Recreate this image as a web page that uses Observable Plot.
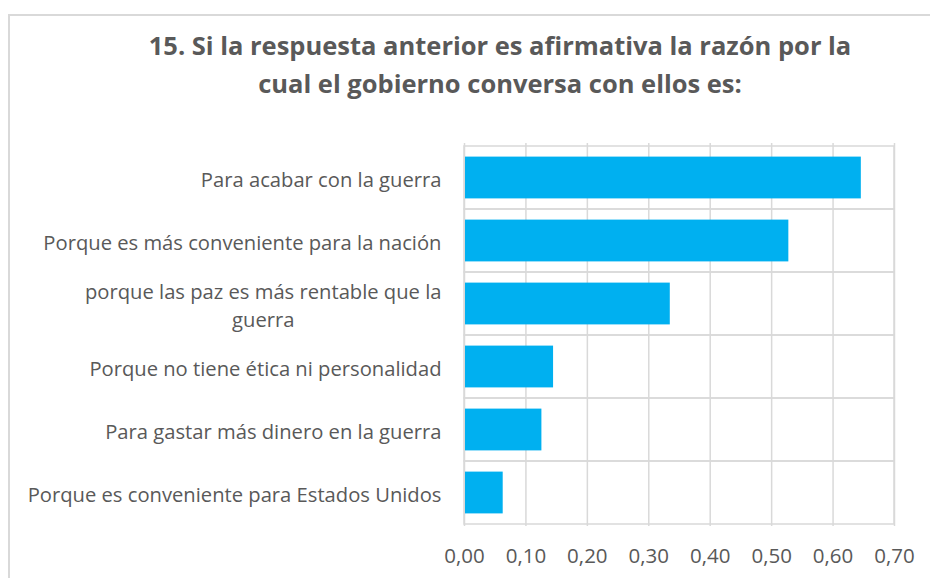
<!DOCTYPE html>
<html>
<head>
<meta charset="utf-8">
<script src="https://cdn.jsdelivr.net/npm/d3@7"></script>
<script src="https://cdn.jsdelivr.net/npm/@observablehq/plot@0.6"></script>
<style>
  html, body { margin: 0; padding: 0; background: #fff; width: 930px; height: 578px; overflow: hidden; }
  #wrap { position: relative; width: 930px; height: 578px; font-family: "Open Sans", sans-serif; }
  #border { position: absolute; left: 8px; top: 14px; width: 1000px; height: 1000px; border: 2px solid #d9d9d9; box-sizing: border-box; }
  #title { position: absolute; left: 60px; width: 880px; top: 26px; text-align: center; font-weight: bold; font-size: 25.5px; line-height: 38px; color: #595959; white-space: nowrap; }
  #chart { position: absolute; left: 0; top: 0; }
</style>
</head>
<body>
<div id="wrap">
  <div id="border"></div>
  <div id="chart"></div>
  <div id="title">15. Si la respuesta anterior es afirmativa la razón por la<br>cual el gobierno conversa con ellos es:</div>
</div>
<script>
const categories = [
  "Para acabar con la guerra",
  "Porque es más conveniente para la nación",
  "porque las paz es más rentable que la\nguerra",
  "Porque no tiene ética ni personalidad",
  "Para gastar más dinero en la guerra",
  "Porque es conveniente para Estados Unidos"
];
const values = [0.646, 0.528, 0.335, 0.145, 0.126, 0.063];
const xTicks = [0, 0.1, 0.2, 0.3, 0.4, 0.5, 0.6, 0.7];

const data = categories.map((c, i) => ({category: c, value: values[i]}));
const fmt = d => d3.format(".2f")(d).replace(".", ",");

const chart = Plot.plot({
  width: 930,
  height: 578,
  marginLeft: 464,
  marginRight: 36,
  marginTop: 143,
  marginBottom: 52,
  style: { fontFamily: "Open Sans, sans-serif", fontSize: "20px", color: "#595959", background: "transparent" },
  x: { domain: [0, 0.7], ticks: xTicks, tickFormat: fmt, label: null },
  y: { domain: categories, padding: 0, label: null },
  marks: [
    Plot.gridX(xTicks, { stroke: "#d9d9d9", strokeOpacity: 1, strokeWidth: 1.5 }),
    Plot.barX(categories, { x1: 0, x2: 0.7, y: d => d, fill: "none", stroke: "#d9d9d9", strokeWidth: 1.5 }),
    Plot.barX(data, { x: "value", y: "category", fill: "#00b0f0", insetTop: 10.6, insetBottom: 10.6, insetLeft: 1 }),
    Plot.axisX({ ticks: xTicks, tickFormat: fmt, tickSize: 0, tickPadding: 22, fontSize: 20.5, fill: "#595959" }),
    Plot.axisY({ tickSize: 0, tickPadding: 23, lineHeight: 1.39, fontSize: 20.2, fill: "#595959" })
  ]
});
document.getElementById("chart").appendChild(chart);

// center wrapped category lines on each other, as in the original
chart.querySelectorAll("[aria-label='y-axis tick label'] text").forEach(t => {
  const spans = t.querySelectorAll("tspan");
  if (spans.length > 1) {
    const w = spans[0].getComputedTextLength();
    t.setAttribute("text-anchor", "middle");
    spans.forEach(s => s.setAttribute("dx", -w / 2));
  }
});
</script>
</body>
</html>
